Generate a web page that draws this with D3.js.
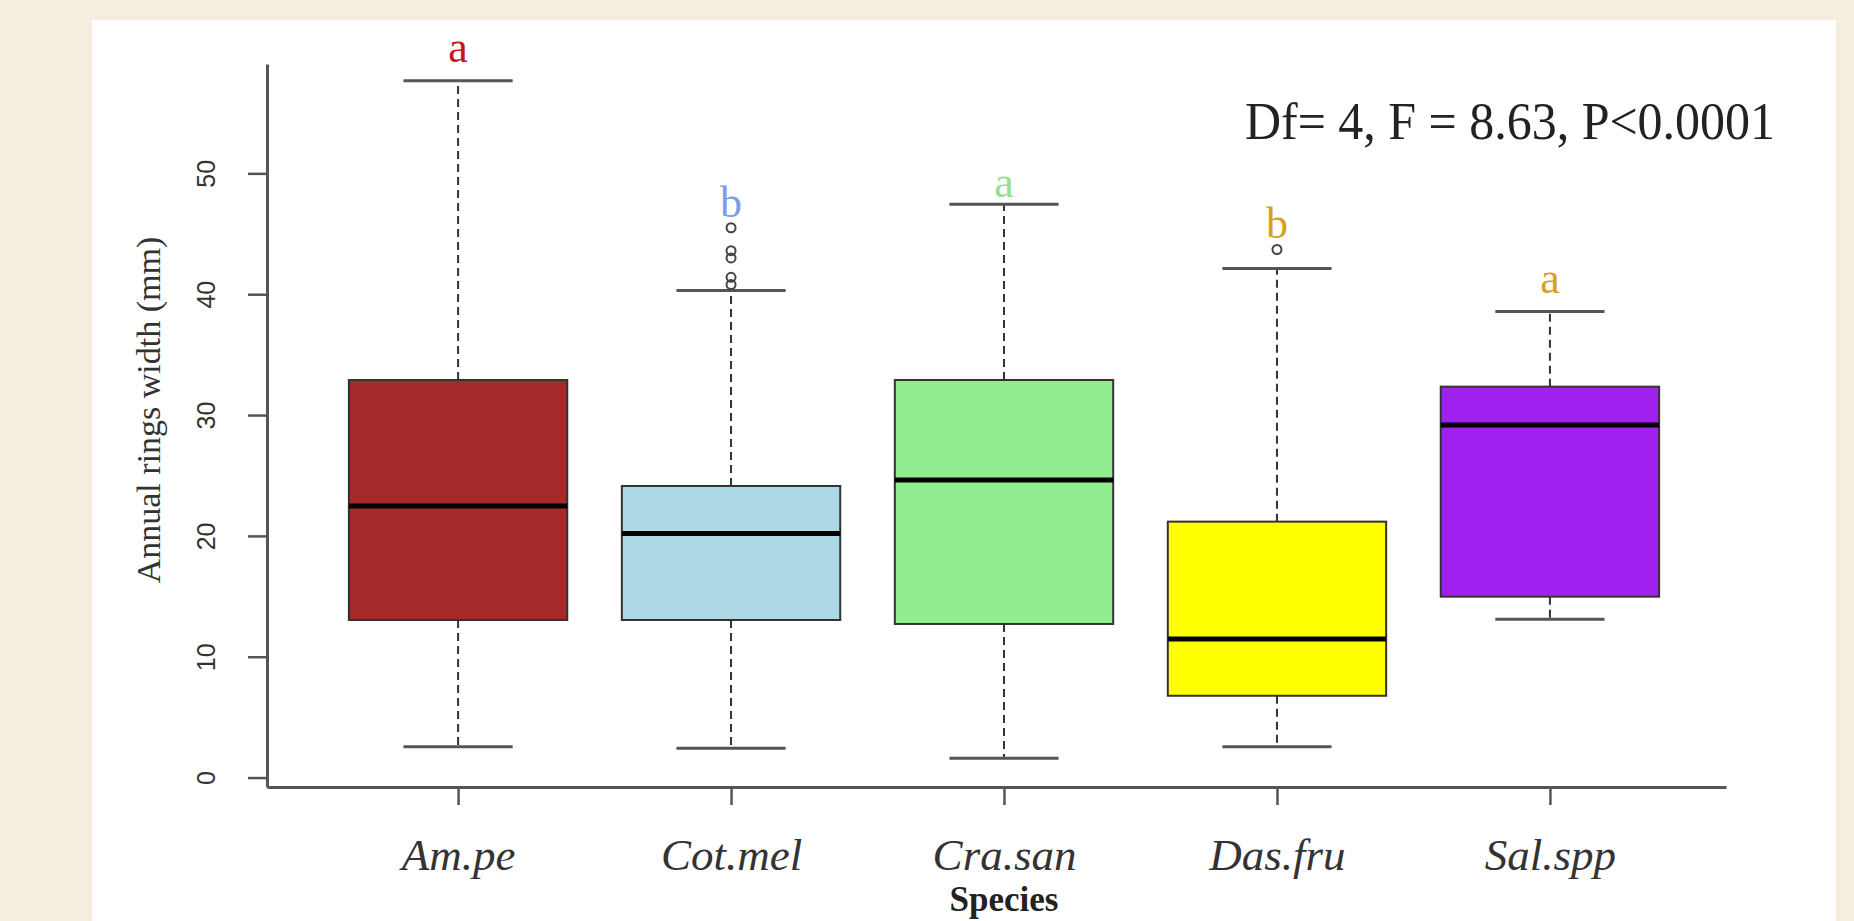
<!DOCTYPE html>
<html>
<head>
<script src="https://d3js.org/d3.v7.min.js"></script>
<style>
  body { margin: 0; background: #f5eedf; }
  svg { display: block; }
  .serif { font-family: "Liberation Serif", "Times New Roman", serif; }
</style>
</head>
<body>
<svg id="chart" width="1854" height="921"></svg>
<script>
// values (mm)
const species = ["Am.pe", "Cot.mel", "Cra.san", "Das.fru", "Sal.spp"];
const whiskerLow = [2.55, 2.42, 1.59, 2.55, 13.1];
const q1 = [13.04, 13.04, 12.71, 6.77, 14.97];
const median = [22.47, 20.2, 24.63, 11.47, 29.18];
const q3 = [32.9, 24.13, 32.9, 21.18, 32.35];
const whiskerHigh = [57.66, 40.3, 47.45, 42.12, 38.56];
const outliers = [[], [45.5, 43.6, 43.0, 41.4, 40.8], [], [43.7], []];
const letters = ["a", "b", "a", "b", "a"];
const letterAt = [59.2, 46.4, 48.05, 44.66, 40.1];
const yTicks = [0, 10, 20, 30, 40, 50];
const statText = "Df= 4, F = 8.63, P<0.0001";

const boxFill = ["#a52a2a", "#add8e6", "#90ee90", "#ffff00", "#a020f0"];
const letterFill = ["#c8141c", "#7b9fe6", "#98e08e", "#d4a21c", "#d4a21c"];

const svg = d3.select("#chart");

// white panel on the beige page
svg.append("rect")
    .attr("x", 92).attr("y", 20)
    .attr("width", 1744).attr("height", 901)
    .attr("fill", "#ffffff");

const x = d3.scaleLinear().domain([0.3, 5.645]).range([267, 1726]);
const y = d3.scaleLinear().domain([-0.78, 59.05]).range([787, 64]);

// y axis
const gy = svg.append("g")
    .attr("transform", `translate(${x(0.3)},0)`)
    .call(d3.axisLeft(y).tickValues(yTicks).tickSize(19).tickSizeOuter(0));
gy.select(".domain").attr("stroke", "#555").attr("stroke-width", 3);
gy.selectAll(".tick line").attr("stroke", "#555").attr("stroke-width", 2.5);
gy.selectAll(".tick text")
    .attr("x", 0).attr("y", -52).attr("dy", 0)
    .attr("transform", "rotate(-90)")
    .attr("text-anchor", "middle")
    .attr("fill", "#333")
    .style("font-family", "'Liberation Sans', Arial, sans-serif")
    .style("font-size", "25px");

// x axis
const gx = svg.append("g")
    .attr("transform", `translate(0,${y(-0.78)})`)
    .call(d3.axisBottom(x).tickValues([1, 2, 3, 4, 5]).tickSize(18).tickSizeOuter(0)
        .tickFormat(d => species[d - 1]));
gx.select(".domain").attr("stroke", "#555").attr("stroke-width", 3);
gx.selectAll(".tick line").attr("stroke", "#555").attr("stroke-width", 2.5);
gx.selectAll(".tick text")
    .attr("y", 83).attr("dy", 0)
    .attr("fill", "#333")
    .attr("class", "serif")
    .style("font-style", "italic")
    .style("font-size", "45px");

// boxplots
const idx = species.map((d, i) => i);
const g = svg.append("g");

// dashed whiskers
g.selectAll(".wh-up").data(idx).enter().append("line")
    .attr("x1", i => x(i + 1)).attr("x2", i => x(i + 1))
    .attr("y1", i => y(q3[i])).attr("y2", i => y(whiskerHigh[i]))
    .attr("stroke", "#333").attr("stroke-width", 2).attr("stroke-dasharray", "8,5");
g.selectAll(".wh-lo").data(idx).enter().append("line")
    .attr("x1", i => x(i + 1)).attr("x2", i => x(i + 1))
    .attr("y1", i => y(q1[i])).attr("y2", i => y(whiskerLow[i]))
    .attr("stroke", "#333").attr("stroke-width", 2).attr("stroke-dasharray", "8,5");

// whisker caps
[whiskerHigh, whiskerLow].forEach(arr => {
    g.selectAll(null).data(idx).enter().append("line")
        .attr("x1", i => x(i + 0.8)).attr("x2", i => x(i + 1.2))
        .attr("y1", i => y(arr[i])).attr("y2", i => y(arr[i]))
        .attr("stroke", "#555").attr("stroke-width", 3);
});

// boxes
g.selectAll(".box").data(idx).enter().append("rect")
    .attr("x", i => x(i + 0.6))
    .attr("y", i => y(q3[i]))
    .attr("width", x(1.4) - x(0.6))
    .attr("height", i => y(q1[i]) - y(q3[i]))
    .attr("fill", i => boxFill[i])
    .attr("stroke", "#333").attr("stroke-width", 2);

// medians
g.selectAll(".med").data(idx).enter().append("line")
    .attr("x1", i => x(i + 0.6)).attr("x2", i => x(i + 1.4))
    .attr("y1", i => y(median[i])).attr("y2", i => y(median[i]))
    .attr("stroke", "#000").attr("stroke-width", 5);

// outliers
const pts = [];
outliers.forEach((arr, i) => arr.forEach(v => pts.push({ i: i, v: v })));
g.selectAll(".out").data(pts).enter().append("circle")
    .attr("cx", d => x(d.i + 1)).attr("cy", d => y(d.v))
    .attr("r", 4.5)
    .attr("fill", "none").attr("stroke", "#444").attr("stroke-width", 2);

// significance letters
g.selectAll(".let").data(idx).enter().append("text")
    .attr("class", "serif")
    .attr("x", i => x(i + 1)).attr("y", i => y(letterAt[i]))
    .attr("text-anchor", "middle")
    .attr("fill", i => letterFill[i])
    .style("font-size", "44px")
    .text(i => letters[i]);

// stats text
svg.append("text")
    .attr("class", "serif")
    .attr("x", 1245).attr("y", 139)
    .attr("textLength", 530).attr("lengthAdjust", "spacingAndGlyphs")
    .attr("fill", "#222")
    .style("font-size", "52px")
    .text(statText);

// axis titles
svg.append("text")
    .attr("class", "serif")
    .attr("transform", "translate(160,410) rotate(-90)")
    .attr("text-anchor", "middle")
    .attr("fill", "#333")
    .style("font-size", "34px")
    .text("Annual rings width (mm)");

svg.append("text")
    .attr("class", "serif")
    .attr("x", x(3)).attr("y", 911)
    .attr("text-anchor", "middle")
    .attr("fill", "#222")
    .style("font-weight", "bold")
    .style("font-size", "35px")
    .text("Species");
</script>
</body>
</html>
